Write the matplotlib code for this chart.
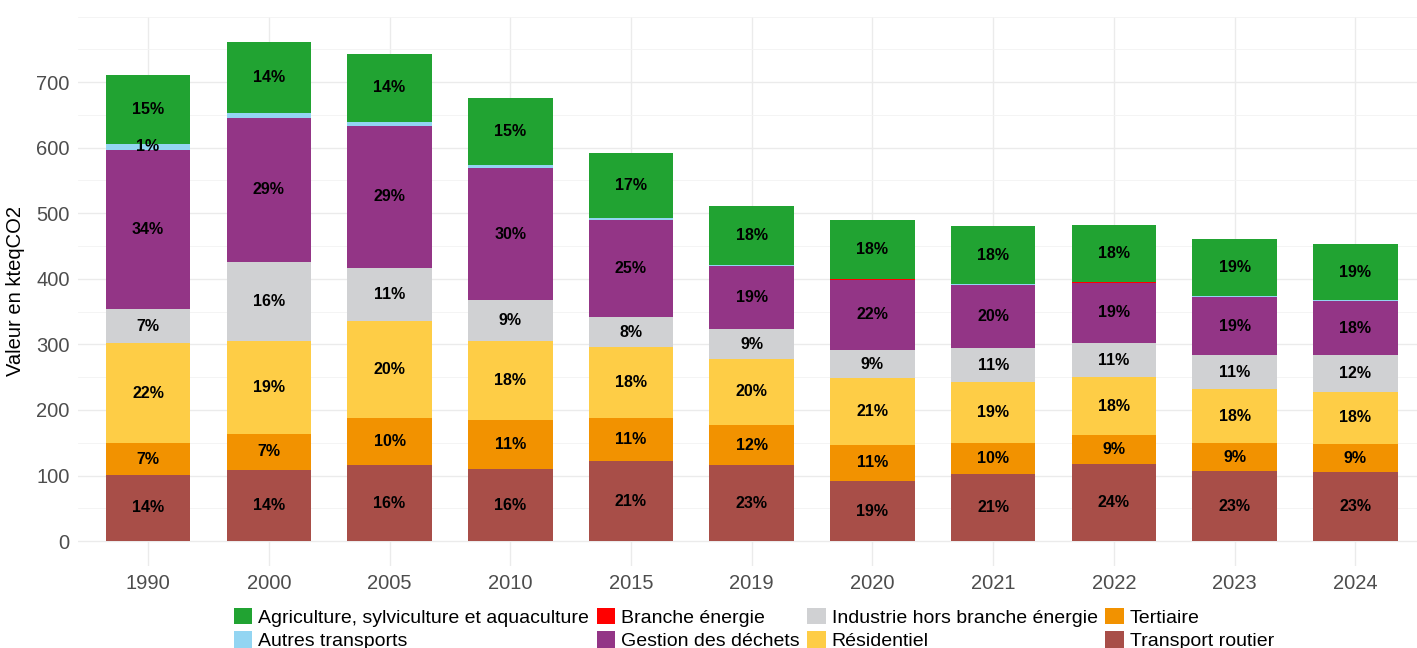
import numpy as np
import matplotlib
matplotlib.use("Agg")
import matplotlib.pyplot as plt
from matplotlib.patches import Patch
from matplotlib.ticker import MultipleLocator

plt.rcParams["font.family"] = ["Liberation Sans", "DejaVu Sans"]

years = ["1990", "2000", "2005", "2010", "2015", "2019", "2020", "2021", "2022", "2023", "2024"]

# kteqCO2 par secteur
transport_routier = [101, 108.5, 116, 110, 122, 116, 91.5, 103, 117, 106.3, 104.8]
tertiaire = [48, 55, 72, 74.5, 65.6, 61, 55.5, 46, 45, 42.7, 42.9]
residentiel = [153, 141.5, 148, 120.5, 108.4, 101, 101, 93, 87.5, 82.4, 80.1]
industrie = [52, 121, 80.5, 62.5, 45.6, 45, 43.5, 52, 53.3, 52, 55.4]
gestion_dechets = [243, 219.5, 217, 201.5, 148.4, 96, 107, 97, 91.5, 89, 83]
branche_energie = [0, 0, 0, 0.5, 0, 0.3, 1.5, 0, 1, 0, 0.5]
autres_transports = [9, 7, 6, 4.5, 2.6, 1.3, 0.3, 1, 0.5, 1, 0.3]
agriculture = [105, 109, 104, 101, 99, 91, 90, 88.5, 86, 87, 86]

# bottom -> top stacking order
series = [
    ("Transport routier", transport_routier, "#A84E48"),
    ("Tertiaire", tertiaire, "#F29200"),
    ("Résidentiel", residentiel, "#FECD46"),
    ("Industrie hors branche énergie", industrie, "#D0D1D3"),
    ("Gestion des déchets", gestion_dechets, "#933586"),
    ("Branche énergie", branche_energie, "#FF0000"),
    ("Autres transports", autres_transports, "#93D5F2"),
    ("Agriculture, sylviculture et aquaculture", agriculture, "#21A332"),
]

vals = np.array([s[1] for s in series], dtype=float)
totals = vals.sum(axis=0)
x = np.arange(len(years))

fig = plt.figure(figsize=(14.17, 6.48), dpi=100)
ax = fig.add_axes([78 / 1417, 82 / 648, (1417 - 78) / 1417, (566 - 16.5) / 648])

bottom = np.zeros(len(years))
for name, v, col in series:
    v = np.array(v, dtype=float)
    ax.bar(x, v, width=0.7, bottom=bottom, color=col, zorder=2)
    for i in range(len(years)):
        pct = v[i] / totals[i] * 100
        if pct >= 1:
            ax.text(x[i], bottom[i] + v[i] / 2, f"{int(np.floor(pct + 0.5))}%",
                    ha="center", va="center", fontsize=11.5, fontweight="bold",
                    color="black", zorder=3)
    bottom += v

ax.set_xlim(-0.58, 10.51)
ax.set_ylim(-38, 800)
ax.set_xticks(x)
ax.set_xticklabels(years)
ax.yaxis.set_major_locator(MultipleLocator(100))
ax.yaxis.set_minor_locator(MultipleLocator(50))
ax.set_yticks(np.arange(0, 701, 100))
ax.grid(which="major", color="#EBEBEB", linewidth=1.0, zorder=0)
ax.grid(which="minor", axis="y", color="#F3F3F3", linewidth=0.6, zorder=0)
ax.set_axisbelow(True)
for sp in ax.spines.values():
    sp.set_visible(False)
ax.tick_params(axis="both", which="both", length=0, labelsize=14.5, labelcolor="#4D4D4D", pad=6)
ax.set_ylabel("Valeur en kteqCO2", fontsize=14.5, color="black", labelpad=8)

# legend filled column by column, alphabetical like the original
handles = {n: Patch(facecolor=c, edgecolor="none", label=n) for n, v, c in series}
legend_names = ["Agriculture, sylviculture et aquaculture", "Autres transports",
                "Branche énergie", "Gestion des déchets",
                "Industrie hors branche énergie", "Résidentiel",
                "Tertiaire", "Transport routier"]
fig.legend(handles=[handles[n] for n in legend_names], loc="lower center",
           bbox_to_anchor=(0.532, -0.024), ncol=4, frameon=False, fontsize=14.0,
           handlelength=0.95, handleheight=0.95, handletextpad=0.3,
           columnspacing=0.4, labelspacing=0.22, borderpad=0.2)

fig.savefig("out.png", dpi=100)
